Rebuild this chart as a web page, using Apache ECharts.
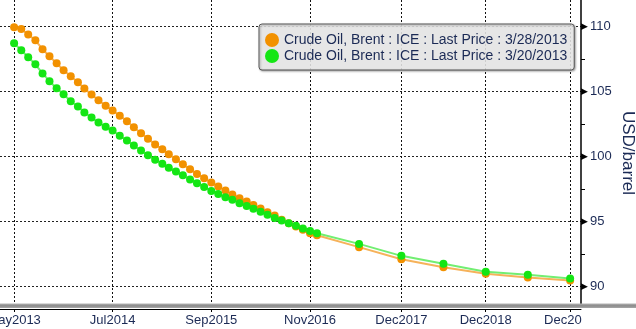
<!DOCTYPE html>
<html><head><meta charset="utf-8">
<script src="https://cdn.jsdelivr.net/npm/echarts@6/dist/echarts.min.js"></script>
<style>html,body{margin:0;padding:0;background:#fff}#c{width:636px;height:329px}</style>
</head><body><div id="c"></div>
<script>
const dates = [
 '2013-05-01','2013-06-01','2013-07-01','2013-08-01','2013-09-01','2013-10-01','2013-11-01','2013-12-01',
 '2014-01-01','2014-02-01','2014-03-01','2014-04-01','2014-05-01','2014-06-01','2014-07-01','2014-08-01',
 '2014-09-01','2014-10-01','2014-11-01','2014-12-01','2015-01-01','2015-02-01','2015-03-01','2015-04-01',
 '2015-05-01','2015-06-01','2015-07-01','2015-08-01','2015-09-01','2015-10-01','2015-11-01','2015-12-01',
 '2016-01-01','2016-02-01','2016-03-01','2016-04-01','2016-05-01','2016-06-01','2016-07-01','2016-08-01',
 '2016-09-01','2016-10-01','2016-11-01','2016-12-01',
 '2017-06-01','2017-12-01','2018-06-01','2018-12-01','2019-06-01','2019-12-01'
];
const brent0328 = [
 109.95,109.82,109.4,108.95,108.26,107.72,107.18,106.65,106.18,105.72,
 105.23,104.77,104.34,103.92,103.54,103.15,102.72,102.26,101.8,101.38,
 100.93,100.57,100.18,99.8,99.4,99.03,98.66,98.33,98.0,97.69,
 97.38,97.08,96.8,96.54,96.28,96.0,95.72,95.46,95.13,94.87,
 94.62,94.36,94.1,93.95,
 93.03,92.1,91.49,90.98,90.7,90.46
];
const brent0320 = [
 108.72,108.18,107.65,107.1,106.4,105.8,105.26,104.8,104.26,103.85,
 103.4,103.0,102.62,102.3,102.0,101.6,101.23,100.85,100.46,100.1,
 99.75,99.45,99.14,98.85,98.57,98.23,97.95,97.65,97.36,97.12,
 96.86,96.67,96.41,96.2,95.98,95.75,95.52,95.28,95.08,94.87,
 94.67,94.46,94.28,94.1,
 93.28,92.36,91.75,91.13,90.9,90.62
];
const seriesNames = [
 'Crude Oil, Brent : ICE : Last Price : 3/28/2013',
 'Crude Oil, Brent : ICE : Last Price : 3/20/2013'
];
const xStart = '2013-03-01';
const xEnd = '2020-01-17';
const xTickDates = ['2013-05-01','2014-07-01','2015-09-01','2016-11-01','2017-12-01','2018-12-01','2019-12-01'];
const xTickLabels = ['May2013','Jul2014','Sep2015','Nov2016','Dec2017','Dec2018','Dec2019'];
const yTickValues = [90,95,100,105,110];
const yMinorTicks = [92.5,97.5,102.5,107.5];

const ms = d => Date.parse(d + 'T00:00:00Z');
const xTickMs = xTickDates.map(ms);
const txt = '#1b2a55';
const font = 'Liberation Sans';

const chart = echarts.init(document.getElementById('c'), null, {renderer:'canvas'});
chart.setOption({
  animation:false,
  backgroundColor:'#fff',
  grid:{left:0,right:55,top:0,bottom:23,containLabel:false,outerBoundsMode:'none'},
  legend:{
    data:seriesNames, orient:'vertical', left:259, top:24,
    itemWidth:14, itemHeight:14, itemGap:2, icon:'circle',
    padding:[9,7,7,6],
    backgroundColor:'rgba(238,238,238,0.85)', borderColor:'#555', borderWidth:1, borderRadius:3,
    shadowColor:'rgba(0,0,0,0.35)', shadowBlur:2, shadowOffsetX:1, shadowOffsetY:1,
    textStyle:{fontSize:14, fontFamily:font, color:txt}
  },
  xAxis:{
    type:'value', min:ms(xStart), max:ms(xEnd), offset:3,
    axisLine:{show:true, lineStyle:{color:'#000', width:1}},
    axisTick:{show:true, customValues:xTickMs, length:3, lineStyle:{color:'#000'}},
    axisLabel:{customValues:xTickMs, fontSize:13, fontFamily:font, color:txt, margin:5, hideOverlap:false,
      formatter:function(v){ const i = xTickMs.indexOf(v); return i >= 0 ? xTickLabels[i] : ''; }},
    splitLine:{show:true, lineStyle:{color:'#111', type:[2,2], width:1}}
  },
  yAxis:[{
    type:'value', position:'right', min:88.5, max:112.05,
    axisLine:{show:true, lineStyle:{color:'#000', width:1.5}},
    axisTick:{show:false, customValues:yTickValues},
    axisLabel:{customValues:yTickValues, margin:0,
      formatter:function(v){ return '{t|\u25B6}{v|'+v+'}'; },
      rich:{t:{fontFamily:'DejaVu Sans', fontSize:9, color:'#000', padding:[0,2,0,0]},
            v:{fontSize:13, fontFamily:font, color:txt}}},
    splitLine:{show:true, lineStyle:{color:'#222', type:[2,2], width:1}},
    name:'USD/barrel', nameLocation:'middle', nameRotate:-90, nameGap:38, nameMoveOverlap:false,
    nameTextStyle:{fontSize:17, fontFamily:font, color:txt}
  },{
    type:'value', position:'right', min:88.5, max:112.05,
    axisLine:{show:false}, axisLabel:{show:false}, splitLine:{show:false},
    axisTick:{show:true, customValues:yMinorTicks, length:4, lineStyle:{color:'#000'}}
  }],
  series:[{
    name:seriesNames[0], type:'line', data:dates.map((d,i)=>[ms(d),brent0328[i]]),
    symbol:'circle', symbolSize:8, showAllSymbol:true,
    itemStyle:{color:'#f29100'}, lineStyle:{color:'#f6b25a', width:2}, z:2
  },{
    name:seriesNames[1], type:'line', data:dates.map((d,i)=>[ms(d),brent0320[i]]),
    symbol:'circle', symbolSize:8, showAllSymbol:true,
    itemStyle:{color:'#14e614'}, lineStyle:{color:'#72ee72', width:2}, z:3
  }],
  graphic:[
    {type:'rect', z:100, shape:{x:0,y:303.5,width:636,height:4.5},
     style:{fill:new echarts.graphic.LinearGradient(0,0,0,1,[{offset:0,color:'#b4b4b4'},{offset:0.5,color:'#8a8a8a'},{offset:1,color:'#a8a8a8'}])}},
    {type:'rect', z:100, shape:{x:582,y:311,width:54,height:18}, style:{fill:'#fff'}}
  ]
});
</script></body></html>
